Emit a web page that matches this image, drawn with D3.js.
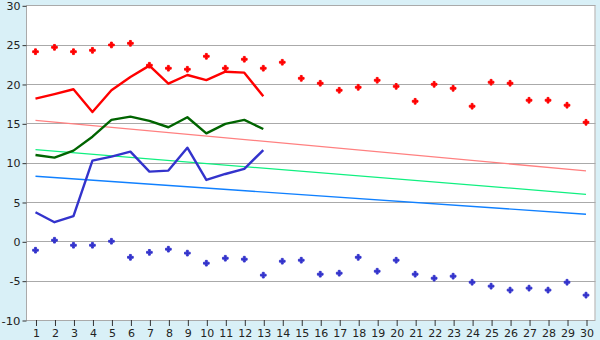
<!DOCTYPE html>
<html><head><meta charset="utf-8">
<script src="https://cdn.jsdelivr.net/npm/d3@7"></script>
<style>body{margin:0;background:#d9f0f7;}svg{display:block;}</style>
</head><body>
<script>
const days = d3.range(1, 31);
const yTicks = [-10, -5, 0, 5, 10, 15, 20, 25, 30];
const maxPoints = [24.1,24.66,24.1,24.28,24.96,25.17,22.38,22.0,21.87,23.52,22.0,23.14,22.0,22.76,20.72,20.09,19.2,19.58,20.47,19.7,17.8,19.96,19.45,17.17,20.22,20.09,17.93,17.93,17.3,15.13];
const minPoints = [-1.13,0.14,-0.5,-0.5,0.01,-2.03,-1.4,-1.0,-1.5,-2.78,-2.15,-2.27,-4.3,-2.53,-2.4,-4.18,-4.05,-2.03,-3.8,-2.4,-4.18,-4.69,-4.43,-5.2,-5.7,-6.2,-5.95,-6.2,-5.2,-6.84];
const maxLine = [18.13,18.72,19.33,16.44,19.2,20.89,22.33,20.04,21.14,20.5,21.56,21.44,18.43];
const meanLine = [10.98,10.64,11.53,13.3,15.43,15.85,15.3,14.5,15.77,13.73,14.92,15.43,14.28];
const minLine = [3.7,2.43,3.19,10.25,10.76,11.4,8.86,8.99,11.9,7.8,8.56,9.2,11.6];
const trendDays = [1, 30];
const trendMax = [15.38, 8.95];
const trendMean = [11.65, 5.98];
const trendMin = [8.27, 3.44];

const W = 600, H = 340;
const L = 26, R = 595.5, T = 5.3, B = 320;
const svg = d3.select("body").append("svg").attr("width", W).attr("height", H);
svg.append("rect").attr("width", W).attr("height", H).attr("fill", "#d9f0f7");
svg.append("rect").attr("x", L).attr("y", T).attr("width", R - L).attr("height", B - T).attr("fill", "#fff");

const x = d3.scaleLinear().domain([0.5, 30.5]).range([L, R]);
const y = d3.scaleLinear().domain([-10, 30]).range([B, T]);

// grid
svg.append("g").selectAll("line").data(yTicks).join("line")
  .attr("x1", L).attr("x2", R).attr("y1", d => Math.round(y(d)) + 0.5).attr("y2", d => Math.round(y(d)) + 0.5)
  .attr("stroke", "#aaa").attr("stroke-width", 1);
// border
svg.append("line").attr("x1", L + 0.5).attr("x2", L + 0.5).attr("y1", T).attr("y2", B).attr("stroke", "#aaa");
svg.append("line").attr("x1", R - 0.5).attr("x2", R - 0.5).attr("y1", T).attr("y2", B).attr("stroke", "#aaa");

const fmt = d => String(d);
const yAxis = d3.axisLeft(y).tickValues(yTicks).tickSize(4).tickPadding(2).tickFormat(fmt);
const gy = svg.append("g").attr("transform", `translate(${L + 0.5},0.5)`).call(yAxis);
gy.select(".domain").remove();
gy.selectAll("line").attr("stroke", "#333");
gy.selectAll("text").attr("font-family", "DejaVu Sans").attr("font-size", 11).attr("fill", "#222")
  .attr("textLength", d => d === -10 ? 19 : null).attr("lengthAdjust", "spacingAndGlyphs");

const xAxis = d3.axisBottom(x).tickValues(days).tickSize(6).tickPadding(3).tickFormat(d3.format("d"));
const gx = svg.append("g").attr("transform", `translate(0.5,${B})`).call(xAxis);
gx.select(".domain").remove();
gx.selectAll("line").attr("stroke", "#333");
gx.selectAll("text").attr("font-family", "DejaVu Sans").attr("font-size", 11).attr("fill", "#222");

// trend lines
const trends = [[trendMax, "#ff8080"], [trendMean, "#10f080"], [trendMin, "#1080ff"]];
trends.forEach(([vals, c]) => {
  svg.append("path").datum(vals.map((v, i) => [trendDays[i], v]))
    .attr("d", d3.line().x(d => x(d[0])).y(d => y(d[1])))
    .attr("fill", "none").attr("stroke", c).attr("stroke-width", 1.3);
});

// series lines
const series = [[maxLine, "#ff0000"], [meanLine, "#006400"], [minLine, "#3333cc"]];
series.forEach(([vals, c]) => {
  svg.append("path").datum(vals.map((v, i) => [days[i], v]))
    .attr("d", d3.line().x(d => x(d[0])).y(d => y(d[1])))
    .attr("fill", "none").attr("stroke", c).attr("stroke-width", 2.4).attr("stroke-linejoin", "round");
});

// points
const sym = d3.symbol().type(d3.symbolCross).size(18);
[[maxPoints, "#ff0000"], [minPoints, "#3333cc"]].forEach(([vals, c]) => {
  svg.append("g").selectAll("path").data(vals).join("path")
    .attr("transform", (d, i) => `translate(${x(days[i])},${y(d)})`)
    .attr("d", sym).attr("fill", c).attr("stroke", c).attr("stroke-width", 0.9);
});
</script>
</body></html>
